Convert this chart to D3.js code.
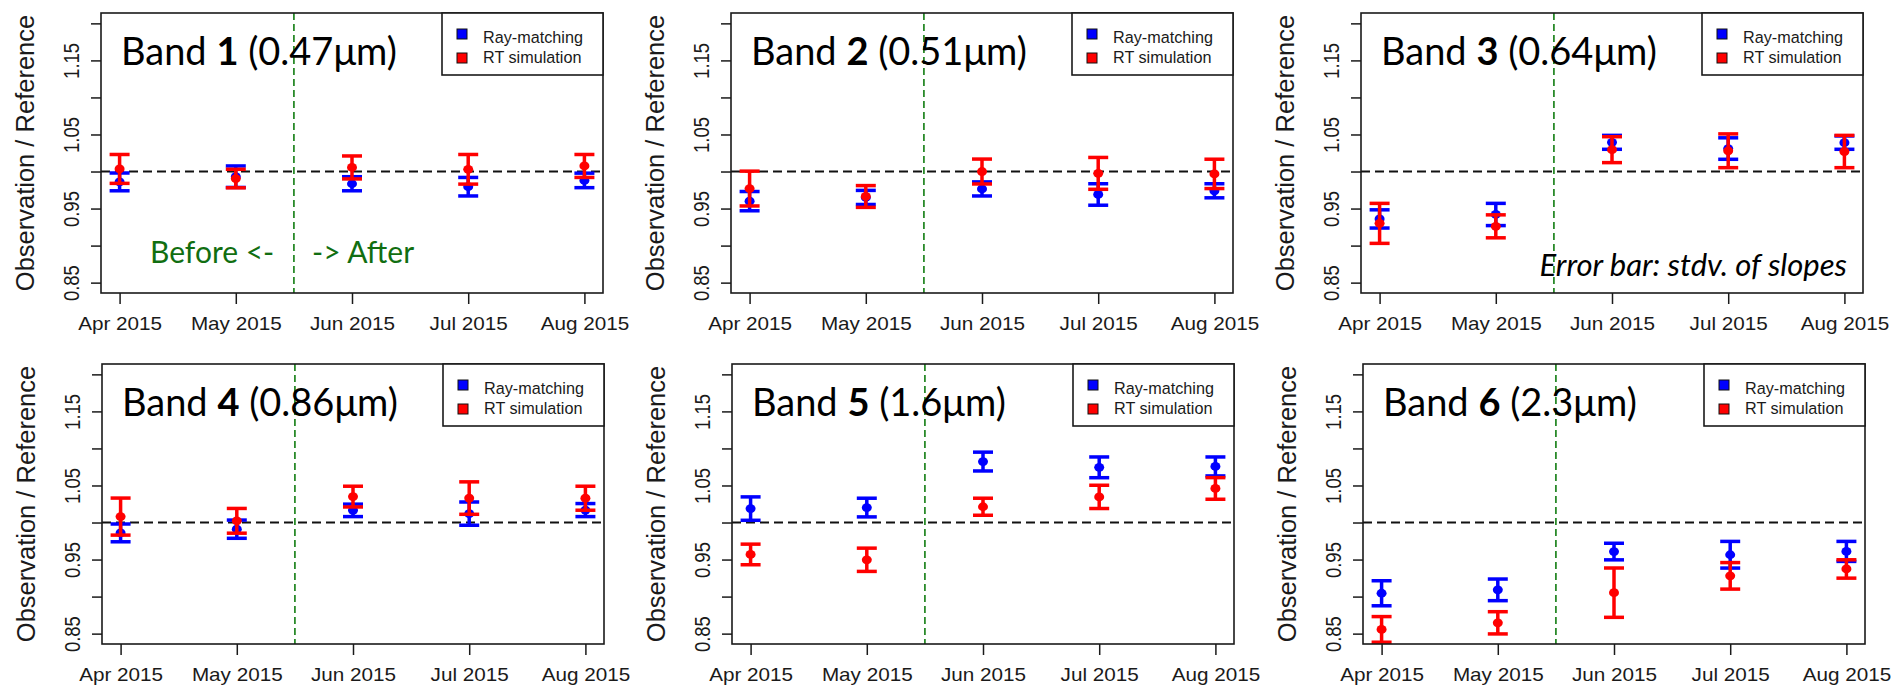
<!DOCTYPE html>
<html>
<head>
<meta charset="utf-8">
<script src="https://cdn.jsdelivr.net/npm/d3@7"></script>
<style>
  body { margin: 0; background: #fff; }
  svg text { font-family: "Liberation Sans", Arial, sans-serif; fill: #1a1a1a; }
  svg text.overlay { font-family: Lato, "Open Sans", sans-serif; }
</style>
</head>
<body>
<svg id="chart" width="1893" height="687"></svg>
<script>
// Values: observation / reference ratio per band and month.
const months = ['Apr 2015', 'May 2015', 'Jun 2015', 'Jul 2015', 'Aug 2015']
const bandNumbers = ['1', '2', '3', '4', '5', '6']
const wavelengths = ['(0.47μm)', '(0.51μm)', '(0.64μm)', '(0.86μm)', '(1.6μm)', '(2.3μm)']
const yTicks = [0.85, 0.90, 0.95, 1.00, 1.05, 1.10, 1.15, 1.20]
const yLabels = [0.85, 0.95, 1.05, 1.15]
const seriesNames = ['Ray-matching', 'RT simulation']
const seriesColors = ['#0000ff', '#ff0000']

// Ray-matching mean and stdv. of slopes.
const rayMean = [
  [0.986, 0.993, 0.9835, 0.9795, 0.988],
  [0.960, 0.965, 0.9765, 0.969, 0.974],
  [0.936, 0.942, 1.0394, 1.031, 1.039],
  [0.986, 0.991, 1.0164, 1.012, 1.0168],
  [1.0188, 1.0202, 1.0823, 1.0745, 1.0757],
  [0.9045, 0.9091, 0.9608, 0.9565, 0.961]
]
const raySd = [
  [0.012, 0.0145, 0.0095, 0.0125, 0.0098],
  [0.013, 0.0095, 0.0095, 0.0145, 0.0095],
  [0.0123, 0.015, 0.0094, 0.0145, 0.009],
  [0.012, 0.0123, 0.0084, 0.0157, 0.0088],
  [0.0158, 0.0126, 0.0127, 0.014, 0.0128],
  [0.0169, 0.0146, 0.0112, 0.018, 0.0135]
]

// RT simulation mean and stdv. of slopes.
const rtMean = [
  [1.0035, 0.9905, 1.0055, 1.003, 1.0075],
  [0.977, 0.9663, 1.0, 0.9975, 0.9968],
  [0.930, 0.926, 1.0295, 1.028, 1.027],
  [1.008, 1.0023, 1.035, 1.033, 1.0328],
  [0.9569, 0.9497, 1.0213, 1.0346, 1.046],
  [0.8557, 0.8646, 0.9053, 0.928, 0.9373]
]
const rtSd = [
  [0.0195, 0.0125, 0.0155, 0.02, 0.0155],
  [0.0235, 0.0147, 0.0168, 0.0215, 0.0198],
  [0.027, 0.0155, 0.0175, 0.0228, 0.0218],
  [0.025, 0.0167, 0.014, 0.0219, 0.0162],
  [0.0139, 0.0157, 0.0115, 0.0157, 0.0146],
  [0.0173, 0.015, 0.0333, 0.0179, 0.0124]
]

// Layout.
const W = 502, H = 280
const panelLeft = [101, 731, 1361, 102, 732, 1363]
const panelTop = [13, 13, 13, 364, 364, 364]
const stretch = 1.15   // the R output was widened a little

const svg = d3.select('#chart')

// R style axis limits: data range plus 4% on each side.
const x = d3.scaleLinear()
  .domain([1 - 0.16, 5 + 0.16])
  .range([0, W])
const y = d3.scaleLinear()
  .domain([0.85 - 0.014, 1.20 + 0.014])
  .range([H, 0])

for (let i = 0; i < 6; i++) {
  const g = svg.append('g')
    .attr('transform', 'translate(' + panelLeft[i] + ',' + panelTop[i] + ')')

  g.append('clipPath').attr('id', 'clip' + i)
    .append('rect').attr('width', W).attr('height', H)

  const plot = g.append('g').attr('clip-path', 'url(#clip' + i + ')')

  // Reference line at 1 and the before / after split.
  plot.append('line')
    .attr('x1', 0).attr('x2', W)
    .attr('y1', y(1)).attr('y2', y(1))
    .attr('stroke', '#111').attr('stroke-width', 2)
    .attr('stroke-dasharray', '9,5')

  plot.append('line')
    .attr('x1', x(2.5)).attr('x2', x(2.5))
    .attr('y1', 0).attr('y2', H)
    .attr('stroke', '#2a8a2a').attr('stroke-width', 1.8)
    .attr('stroke-dasharray', '7,4')

  // Error bars, blue first then red on top.
  const series = [[rayMean[i], raySd[i]], [rtMean[i], rtSd[i]]]
  series.forEach(function(s, k) {
    const rows = s[0].map(function(m, j) { return { x: j + 1, m: m, sd: s[1][j] } })
    const bars = plot.append('g')
      .attr('stroke', seriesColors[k])
      .attr('stroke-width', 3.5)
    bars.selectAll('line.v')
      .data(rows).enter().append('line')
        .attr('x1', function(d) { return x(d.x) })
        .attr('x2', function(d) { return x(d.x) })
        .attr('y1', function(d) { return y(d.m - d.sd) })
        .attr('y2', function(d) { return y(d.m + d.sd) })
    bars.selectAll('line.lo')
      .data(rows).enter().append('line')
        .attr('x1', function(d) { return x(d.x) - 10 })
        .attr('x2', function(d) { return x(d.x) + 10 })
        .attr('y1', function(d) { return y(d.m - d.sd) })
        .attr('y2', function(d) { return y(d.m - d.sd) })
    bars.selectAll('line.hi')
      .data(rows).enter().append('line')
        .attr('x1', function(d) { return x(d.x) - 10 })
        .attr('x2', function(d) { return x(d.x) + 10 })
        .attr('y1', function(d) { return y(d.m + d.sd) })
        .attr('y2', function(d) { return y(d.m + d.sd) })
    plot.append('g').selectAll('ellipse')
      .data(rows).enter().append('ellipse')
        .attr('cx', function(d) { return x(d.x) })
        .attr('cy', function(d) { return y(d.m) })
        .attr('rx', 5).attr('ry', 4.4)
        .attr('fill', seriesColors[k])
  })

  // Plot frame.
  g.append('rect')
    .attr('width', W).attr('height', H)
    .attr('fill', 'none').attr('stroke', '#1a1a1a').attr('stroke-width', 1.6)

  // Axes.
  const gx = g.append('g')
    .attr('transform', 'translate(0,' + H + ')')
    .call(d3.axisBottom(x)
      .tickValues([1, 2, 3, 4, 5])
      .tickFormat(function(d) { return months[d - 1] })
      .tickSize(11))
  gx.select('.domain').remove()
  gx.selectAll('.tick line').attr('stroke', '#1a1a1a').attr('stroke-width', 1.5)
  gx.selectAll('.tick text')
    .attr('y', 37).attr('dy', null)
    .attr('transform', 'scale(' + stretch + ',1)')
    .style('font-size', '18px')

  const gy = g.append('g')
    .call(d3.axisLeft(y)
      .tickValues(yTicks)
      .tickFormat(function(d) {
        return yLabels.some(function(v) { return Math.abs(v - d) < 1e-6 }) ? d3.format('.2f')(d) : ''
      })
      .tickSize(10))
  gy.select('.domain').remove()
  gy.selectAll('.tick line').attr('stroke', '#1a1a1a').attr('stroke-width', 1.5)
  gy.selectAll('.tick text')
    .attr('x', null).attr('dy', null)
    .attr('text-anchor', 'middle')
    .attr('transform', 'translate(-22,0) rotate(-90) scale(1,1.2)')
    .style('font-size', '18.5px')

  g.append('text')
    .attr('transform', 'translate(-67,' + (H / 2) + ') rotate(-90)')
    .attr('text-anchor', 'middle')
    .style('font-size', '25.5px')
    .text('Observation / Reference')

  // Legend, top right corner.
  const legend = g.append('g').attr('transform', 'translate(' + (W - 161) + ',0)')
  legend.append('rect')
    .attr('width', 161).attr('height', 62)
    .attr('fill', '#fff').attr('stroke', '#1a1a1a').attr('stroke-width', 1.6)
  seriesNames.forEach(function(name, k) {
    legend.append('rect')
      .attr('x', 15).attr('y', 16 + k * 24)
      .attr('width', 10).attr('height', 10)
      .attr('fill', seriesColors[k]).attr('stroke', '#111').attr('stroke-width', 1)
    legend.append('text')
      .attr('transform', 'translate(41,' + (30 + k * 20) + ') scale(1.08,1.05)')
      .style('font-size', '15px')
      .text(name)
  })

  // Band title.
  const title = g.append('text')
    .attr('class', 'overlay')
    .attr('x', 20).attr('y', 52)
    .style('font-size', '38px')
    .style('fill', '#000')
  title.append('tspan').text('Band ')
  title.append('tspan').style('font-weight', 'bold').text(bandNumbers[i])
  title.append('tspan').text(' ' + wavelengths[i])

  // Notes placed on the first and third panels.
  if (i === 0) {
    g.append('text').attr('class', 'overlay')
      .attr('x', 49).attr('y', 250)
      .style('font-size', '30px').style('fill', '#116e11')
      .text('Before  <-')
    g.append('text').attr('class', 'overlay')
      .attr('x', 211).attr('y', 250)
      .style('font-size', '30px').style('fill', '#116e11')
      .text('-> After')
  }
  if (i === 2) {
    g.append('text').attr('class', 'overlay')
      .attr('x', 486).attr('y', 263)
      .attr('text-anchor', 'end')
      .style('font-size', '31px').style('font-style', 'italic').style('fill', '#000')
      .text('Error bar: stdv. of slopes')
  }
}
</script>
</body>
</html>
